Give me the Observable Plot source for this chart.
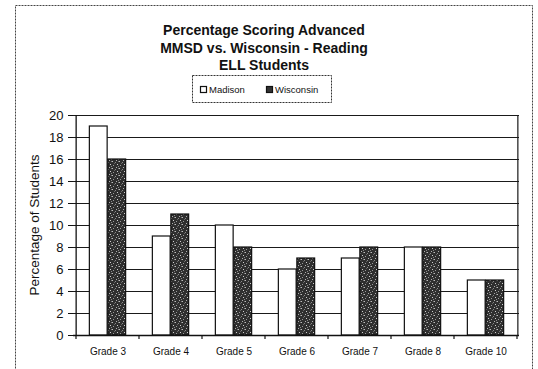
<!DOCTYPE html>
<html>
<head>
<meta charset="utf-8">
<script src="https://cdn.jsdelivr.net/npm/d3@7"></script>
<script src="https://cdn.jsdelivr.net/npm/@observablehq/plot@0.6"></script>
<style>
  html, body { margin: 0; padding: 0; background: #fff; }
  svg { display: block; }
</style>
</head>
<body>
<div id="chart"></div>
<script>
const grades = ["Grade 3", "Grade 4", "Grade 5", "Grade 6", "Grade 7", "Grade 8", "Grade 10"];
const madison = [19, 9, 10, 6, 7, 8, 5];
const wisconsin = [16, 11, 8, 7, 8, 8, 5];
const seriesNames = ["Madison", "Wisconsin"];
const yTicks = [0, 2, 4, 6, 8, 10, 12, 14, 16, 18, 20];
const titleLines = ["Percentage Scoring Advanced", "MMSD vs. Wisconsin - Reading", "ELL Students"];
const yLabel = "Percentage of Students";

const madRows = grades.map((g, i) => ({grade: g, value: madison[i]}));
const wisRows = grades.map((g, i) => ({grade: g, value: wisconsin[i]}));

const W = 538, H = 369;
const mL = 73, mR = 19, mT = 115, mB = 34;
const step = (W - mL - mR) / grades.length;
const barW = 18.5;
const gap = step / 2 - barW;
const FONT = "'Liberation Sans', Arial, sans-serif";

const plot = Plot.plot({
  width: W, height: H,
  marginLeft: mL, marginRight: mR, marginTop: mT, marginBottom: mB,
  style: {fontFamily: FONT, background: "#fff", color: "#111"},
  x: {domain: grades, padding: 0, label: null},
  y: {domain: [0, 20], label: null},
  marks: [
    Plot.ruleY(yTicks.filter(d => d > 0 && d < 20), {stroke: "#1a1a1a", strokeWidth: 1.1}),
    Plot.barY(madRows, {x: "grade", y: "value", fill: "#fff", stroke: "#111", strokeWidth: 1.2,
      insetLeft: gap, insetRight: step / 2}),
    Plot.barY(wisRows, {x: "grade", y: "value", fill: "#333", stroke: "#111", strokeWidth: 1.2,
      insetLeft: step / 2, insetRight: gap}),
    Plot.ruleY([20], {stroke: "#1a1a1a", strokeWidth: 1.2}),
    Plot.ruleY([0], {stroke: "#111", strokeWidth: 1.3}),
    Plot.ruleX([grades[grades.length - 1]], {stroke: "#1a1a1a", strokeWidth: 1.2, dx: step / 2}),
    Plot.axisY({ticks: yTicks, tickSize: 5, tickPadding: 5, fontSize: 13, label: null, tickFormat: d => d}),
    Plot.ruleX([grades[0]], {stroke: "#111", strokeWidth: 1.3, dx: -step / 2}),
    Plot.axisX({tickSize: 0, tickPadding: 12, fontSize: 10, label: null})
  ]
});

document.getElementById("chart").appendChild(plot);
const svg = d3.select(plot);

// stipple pattern for Wisconsin bars
const defs = svg.insert("defs", ":first-child");
const pat = defs.append("pattern").attr("id", "stip").attr("patternUnits", "userSpaceOnUse")
  .attr("width", 7).attr("height", 7);
pat.append("rect").attr("width", 7).attr("height", 7).attr("fill", "#2f2f2f");
[[0,0,"#bdbdbd"],[3,1,"#8a8a8a"],[5,3,"#d0d0d0"],[1,4,"#9a9a9a"],[4,6,"#b0b0b0"],[6,0,"#777"],[2,2,"#666"],[6,5,"#888"]]
  .forEach(([a, b, c]) =>
    pat.append("rect").attr("x", a).attr("y", b).attr("width", 1).attr("height", 1).attr("fill", c));
const barGroups = svg.selectAll("g[aria-label='bar']").nodes();
d3.select(barGroups[1]).attr("fill", "url(#stip)");

// boundary ticks on the x axis, from Plot's own scales
const xs = plot.scale("x");
const ys = plot.scale("y");
const y0 = ys.apply(0);
const bounds = grades.map(g => xs.apply(g)).concat([xs.apply(grades[grades.length - 1]) + xs.bandwidth]);
svg.append("g").selectAll("line").data(bounds).join("line")
  .attr("x1", d => d).attr("x2", d => d).attr("y1", y0).attr("y2", y0 + 4)
  .attr("stroke", "#111").attr("stroke-width", 1.2);

// outer dotted frame
svg.append("rect").attr("x", 15.5).attr("y", 5.5).attr("width", 517).attr("height", 380)
  .attr("fill", "none").attr("stroke", "#444").attr("stroke-width", 1).attr("stroke-dasharray", "2,1");

// title
const tcx = 264;
svg.append("g").attr("font-family", FONT).attr("font-weight", "bold")
  .attr("font-size", 14).attr("fill", "#111").attr("text-anchor", "middle")
  .selectAll("text").data(titleLines).join("text")
  .attr("x", tcx).attr("y", (d, i) => 35 + i * 17.5).text(d => d);

// legend
const lg = svg.append("g").attr("font-family", FONT).attr("font-size", 9.5).attr("fill", "#111")
  .attr("text-anchor", "start");
lg.append("rect").attr("x", 192.5).attr("y", 75.5).attr("width", 139).attr("height", 27)
  .attr("fill", "#fff").attr("stroke", "#333").attr("stroke-dasharray", "2,1");
const legX = [200, 266];
seriesNames.forEach((s, i) => {
  lg.append("rect").attr("x", legX[i] + 0.5).attr("y", 86.5).attr("width", 6).attr("height", 6)
    .attr("fill", i === 0 ? "#fff" : "#333").attr("stroke", "#111").attr("stroke-width", 1.2);
  lg.append("text").attr("x", legX[i] + 9).attr("y", 93).attr("text-anchor", "start").text(s);
});

// y-axis title
svg.append("text").attr("font-family", FONT).attr("font-size", 13.5)
  .attr("fill", "#111").attr("text-anchor", "middle")
  .attr("transform", `translate(39,${(ys.apply(20) + y0) / 2}) rotate(-90)`).text(yLabel);
</script>
</body>
</html>
